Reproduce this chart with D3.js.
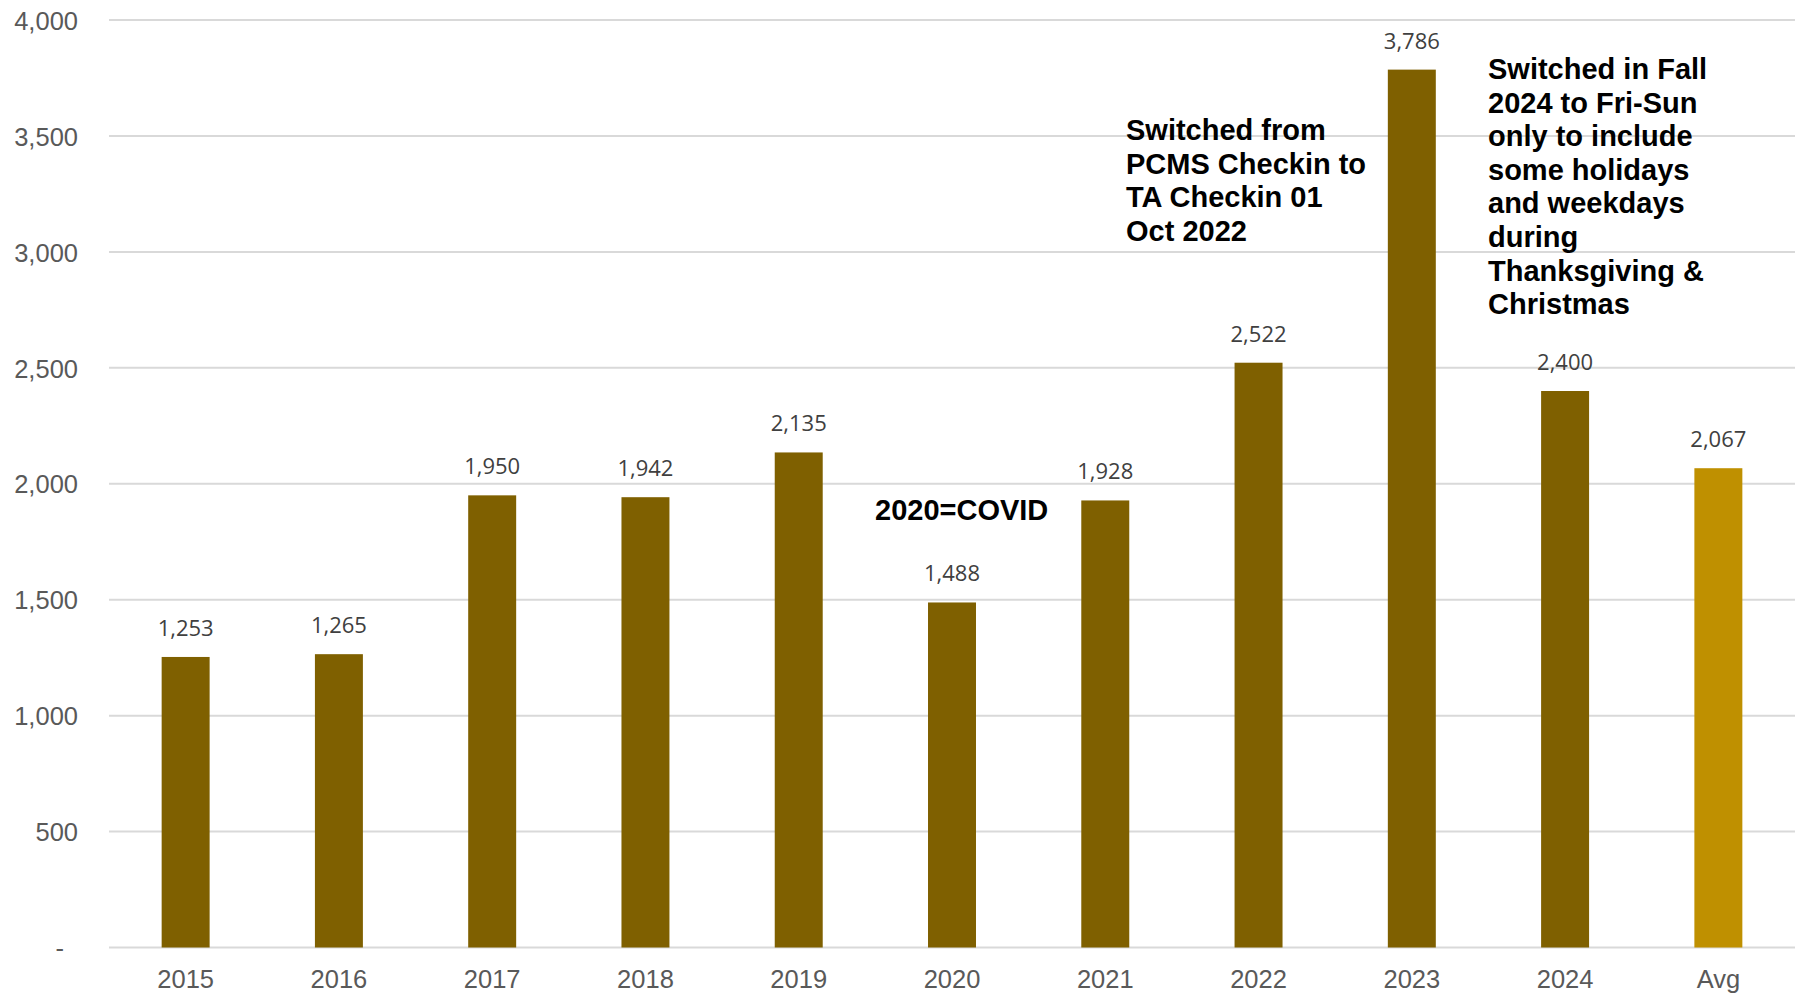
<!DOCTYPE html>
<html>
<head>
<meta charset="utf-8">
<script src="https://cdn.jsdelivr.net/npm/d3@7"></script>
<style>
  html, body { margin: 0; padding: 0; background: #fff; }
  svg { display: block; }
</style>
</head>
<body>
<svg id="chart" width="1805" height="996"></svg>
<script>
// ---- data ----
const categories = ["2015", "2016", "2017", "2018", "2019", "2020", "2021", "2022", "2023", "2024", "Avg"];
const values = [1253, 1265, 1950, 1942, 2135, 1488, 1928, 2522, 3786, 2400, 2067];
const yTicks = [0, 500, 1000, 1500, 2000, 2500, 3000, 3500, 4000];
const noteCovid = ["2020=COVID"];
const noteCheckin = ["Switched from", "PCMS Checkin to", "TA Checkin 01", "Oct 2022"];
const noteFall = ["Switched in Fall", "2024 to Fri-Sun", "only to include", "some holidays", "and weekdays", "during", "Thanksgiving &", "Christmas"];

// ---- layout ----
const plotLeft = 109, plotRight = 1795, plotTop = 20, plotBottom = 947.5;
const svg = d3.select("#chart");

const x = d3.scaleBand().domain(categories).range([plotLeft, plotRight])
  .paddingInner(0.687).paddingOuter(0.3435);
const y = d3.scaleLinear().domain([0, 4000]).range([plotBottom, plotTop]);

const fmt = d3.format(",");

// gridlines
svg.append("g").selectAll("line").data(yTicks).join("line")
  .attr("x1", plotLeft).attr("x2", plotRight)
  .attr("y1", d => y(d)).attr("y2", d => y(d))
  .attr("stroke", "#D9D9D9").attr("stroke-width", 2);

// y axis labels
const yAxis = d3.axisLeft(y).tickValues(yTicks).tickSize(0).tickPadding(0)
  .tickFormat(d => d === 0 ? "-" : fmt(d));
const gy = svg.append("g").attr("transform", "translate(78,0)").call(yAxis);
gy.select(".domain").remove();
gy.selectAll("text")
  .attr("font-family", "'Liberation Sans', Arial, sans-serif")
  .attr("font-size", 25.5).attr("fill", "#595959")
  .attr("dy", "0.36em")
  .attr("x", d => d === 0 ? -14 : 0);

// x axis labels
const xAxis = d3.axisBottom(x).tickSize(0).tickPadding(0);
const gx = svg.append("g").attr("transform", `translate(0,${plotBottom})`).call(xAxis);
gx.select(".domain").remove();
gx.selectAll("text")
  .attr("font-family", "'Liberation Sans', Arial, sans-serif")
  .attr("font-size", 25.5).attr("fill", "#595959")
  .attr("y", 40.5).attr("dy", 0);

// bars
svg.append("g").selectAll("rect").data(categories).join("rect")
  .attr("x", d => x(d))
  .attr("width", x.bandwidth())
  .attr("y", (d, i) => y(values[i]))
  .attr("height", (d, i) => y(0) - y(values[i]))
  .attr("fill", d => d === "Avg" ? "#BF9000" : "#7F6000");

// data labels
svg.append("g").selectAll("text").data(categories).join("text")
  .attr("x", d => x(d) + x.bandwidth() / 2)
  .attr("y", (d, i) => y(values[i]) - 21)
  .attr("text-anchor", "middle")
  .attr("font-family", "'Open Sans', sans-serif")
  .attr("font-size", 22).attr("fill", "#404040")
  .text((d, i) => fmt(values[i]));

// annotations
function note(lines, x0, y0) {
  const t = svg.append("text")
    .attr("font-family", "'Liberation Sans', Arial, sans-serif")
    .attr("font-weight", "bold").attr("font-size", 29).attr("fill", "#000");
  lines.forEach((l, i) => {
    t.append("tspan").attr("x", x0).attr("y", y0 + i * 33.6).text(l);
  });
}
note(noteCovid, 875, 520);
note(noteCheckin, 1126, 140);
note(noteFall, 1488, 79);
</script>
</body>
</html>
